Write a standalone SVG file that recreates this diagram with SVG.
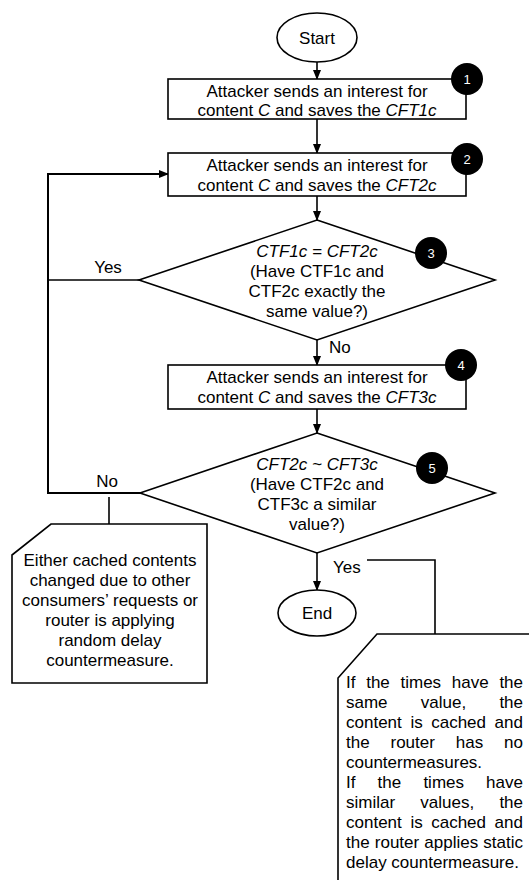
<svg xmlns="http://www.w3.org/2000/svg" width="529" height="880" viewBox="0 0 529 880">
<style>
text{font-family:"Liberation Sans",Arial,sans-serif;font-size:17px;fill:#000}
.c{text-anchor:middle}
.i{font-style:italic}
.shape{fill:#fff;stroke:#000;stroke-width:1.6}
.line{fill:none;stroke:#000;stroke-width:1.6}
.badge circle{fill:#000}
.badge text{fill:#fff;font-size:13px;text-anchor:middle}
</style>
<defs>
<marker id="arr" markerWidth="10" markerHeight="10" refX="9" refY="5" orient="auto" markerUnits="userSpaceOnUse">
<path d="M0,1 L10,5 L0,9 Z" fill="#000"/>
</marker>
</defs>
<rect width="529" height="880" fill="#fff"/>

<g id="connectors">
<line class="line" x1="317" y1="62" x2="317" y2="79" marker-end="url(#arr)"/>
<line class="line" x1="317" y1="119" x2="317" y2="153" marker-end="url(#arr)"/>
<line class="line" x1="317" y1="196" x2="317" y2="220" marker-end="url(#arr)"/>
<line class="line" x1="317" y1="340" x2="317" y2="365" marker-end="url(#arr)"/>
<line class="line" x1="317" y1="409" x2="317" y2="433" marker-end="url(#arr)"/>
<line class="line" x1="317" y1="553" x2="317" y2="590" marker-end="url(#arr)"/>
<polyline class="line" style="stroke-width:2" points="140,493 48,493 48,174 168,174" marker-end="url(#arr)"/>
<line class="line" x1="139" y1="280" x2="48" y2="280"/>
<line class="line" x1="109" y1="497" x2="109" y2="524"/>
<polyline class="line" points="367,560 435,560 435,634"/>
<text x="108" y="273" class="c">Yes</text>
<text x="329" y="353">No</text>
<text x="107" y="487" class="c">No</text>
<text x="333" y="573">Yes</text>
</g>

<g id="start">
<ellipse class="shape" cx="317" cy="37.5" rx="40" ry="24.5"/>
<text x="317" y="43.5" class="c">Start</text>
</g>

<g id="step1">
<rect class="shape" x="168" y="79" width="298" height="40"/>
<text x="317" y="97" class="c">Attacker sends an interest for</text>
<text x="317" y="116" class="c">content <tspan class="i">C</tspan> and saves the <tspan class="i">CFT1c</tspan></text>
</g>

<g id="step2">
<rect class="shape" x="168" y="153" width="298" height="43"/>
<text x="317" y="171" class="c">Attacker sends an interest for</text>
<text x="317" y="191" class="c">content <tspan class="i">C</tspan> and saves the <tspan class="i">CFT2c</tspan></text>
</g>

<g id="decision1">
<polygon class="shape" points="317,220 495,280 317,340 139,280"/>
<text x="317" y="257" class="c i">CTF1c = CFT2c</text>
<text x="317" y="277" class="c">(Have CTF1c and</text>
<text x="317" y="297" class="c">CTF2c exactly the</text>
<text x="317" y="317" class="c">same value?)</text>
</g>

<g id="step4">
<rect class="shape" x="168" y="365" width="298" height="44"/>
<text x="317" y="383" class="c">Attacker sends an interest for</text>
<text x="317" y="403" class="c">content <tspan class="i">C</tspan> and saves the <tspan class="i">CFT3c</tspan></text>
</g>

<g id="decision2">
<polygon class="shape" points="317,433 495,493 317,553 140,493"/>
<text x="317" y="470" class="c i">CFT2c ~ CFT3c</text>
<text x="317" y="490" class="c">(Have CTF2c and</text>
<text x="317" y="510" class="c">CTF3c a similar</text>
<text x="317" y="530" class="c">value?)</text>
</g>

<g id="end">
<ellipse class="shape" cx="317" cy="613" rx="39" ry="23"/>
<text x="317" y="619" class="c">End</text>
</g>

<g id="note-left">
<polygon class="shape" points="51,524 207,524 207,683 12,683 12,555"/>
<text x="110" y="566" class="c">Either cached contents</text>
<text x="110" y="586" class="c">changed due to other</text>
<text x="110" y="606" class="c">consumers’ requests or</text>
<text x="110" y="626" class="c">router is applying</text>
<text x="110" y="646" class="c">random delay</text>
<text x="110" y="666" class="c">countermeasure.</text>
</g>

<g id="note-right">
<polygon class="shape" points="377,634 540,634 540,890 338,890 338,678"/>
<text y="688"><tspan x="346">If</tspan><tspan x="366.2">the</tspan><tspan x="400.5">times</tspan><tspan x="451.8">have</tspan><tspan x="499.4">the</tspan></text>
<text y="708"><tspan x="346">same</tspan><tspan x="420.8">value,</tspan><tspan x="499.4">the</tspan></text>
<text y="728"><tspan x="346">content</tspan><tspan x="410.4">is</tspan><tspan x="431.2">cached</tspan><tspan x="494.6">and</tspan></text>
<text y="748"><tspan x="346">the</tspan><tspan x="390.5">router</tspan><tspan x="455.8">has</tspan><tspan x="504.1">no</tspan></text>
<text y="768" x="346">countermeasures.</text>
<text y="788"><tspan x="346">If</tspan><tspan x="377.6">the</tspan><tspan x="423.4">times</tspan><tspan x="486.1">have</tspan></text>
<text y="808"><tspan x="346">similar</tspan><tspan x="420.3">values,</tspan><tspan x="499.4">the</tspan></text>
<text y="828"><tspan x="346">content</tspan><tspan x="410.4">is</tspan><tspan x="431.2">cached</tspan><tspan x="494.6">and</tspan></text>
<text y="848"><tspan x="346">the</tspan><tspan x="374.8">router</tspan><tspan x="424.3">applies</tspan><tspan x="483.3">static</tspan></text>
<text y="868" x="346">delay countermeasure.</text>
</g>

<g id="badge1" class="badge"><circle cx="467" cy="79" r="16"/><text x="467" y="84">1</text></g>
<g id="badge2" class="badge"><circle cx="467" cy="159" r="16"/><text x="467" y="164">2</text></g>
<g id="badge3" class="badge"><circle cx="431" cy="253" r="16"/><text x="431" y="258">3</text></g>
<g id="badge4" class="badge"><circle cx="461" cy="365" r="16"/><text x="461" y="370">4</text></g>
<g id="badge5" class="badge"><circle cx="432" cy="468" r="16"/><text x="432" y="473">5</text></g>
</svg>
